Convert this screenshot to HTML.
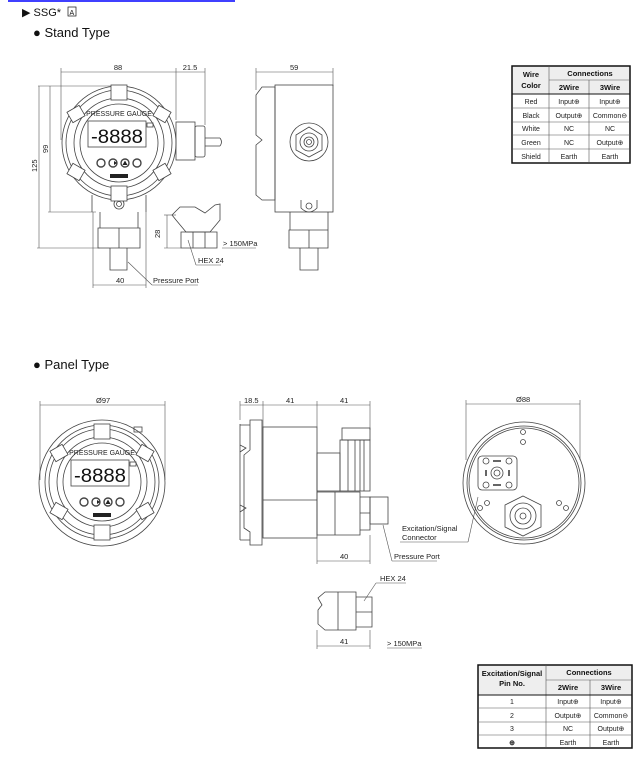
<!DOCTYPE html>
<html><head><meta charset="utf-8"><style>
html,body{margin:0;padding:0;background:#fff;}
svg{display:block;font-family:"Liberation Sans",sans-serif;}
.l{fill:none;stroke:#444;stroke-width:0.8}
.d{fill:none;stroke:#555;stroke-width:0.6}
.t{font-size:7.5px;fill:#222}
.tb{font-size:7px;fill:#222;text-anchor:middle}
.th{font-size:7.5px;fill:#111;font-weight:bold;text-anchor:middle}
</style></head><body>
<svg width="642" height="770" viewBox="0 0 642 770" xmlns="http://www.w3.org/2000/svg">
<defs>
<g id="face">
 <circle r="57" class="l"/><circle r="53" class="l"/><circle r="45" class="l"/><circle r="39" class="l"/>
 <rect x="-8" y="-58" width="16" height="15" class="l" style="fill:#fff"/>
 <rect x="-8" y="43" width="16" height="15" class="l" style="fill:#fff"/>
 <rect x="-50" y="-35" width="14" height="12" class="l" style="fill:#fff" transform="rotate(-30 -43 -29)"/>
 <rect x="36" y="-35" width="14" height="12" class="l" style="fill:#fff" transform="rotate(30 43 -29)"/>
 <rect x="-50" y="23" width="14" height="12" class="l" style="fill:#fff" transform="rotate(30 -43 29)"/>
 <rect x="36" y="23" width="14" height="12" class="l" style="fill:#fff" transform="rotate(-30 43 29)"/>
 <text x="0" y="-27" font-size="7" text-anchor="middle" fill="#222">PRESSURE GAUGE</text>
 <rect x="-31" y="-22" width="58" height="26" class="l"/>
 <text x="-28" y="0" font-size="19" fill="#111" textLength="52" lengthAdjust="spacingAndGlyphs">-8888</text>
 <rect x="28" y="-20" width="6" height="4" class="l"/>
 <circle cx="-18" cy="20" r="4" class="l" style="stroke-width:1.4"/><circle cx="-6" cy="20" r="4" class="l" style="stroke-width:1.4"/>
 <circle cx="6" cy="20" r="4" class="l" style="stroke-width:1.4"/><circle cx="18" cy="20" r="4" class="l" style="stroke-width:1.4"/>
 <path d="M-5 18 L-5 22 L-2 20 Z M6 17.5 L8.5 22 L3.5 22 Z" fill="#222"/>
 <rect x="-9" y="31" width="18" height="4" fill="#222"/>
</g>
</defs>
<line x1="8" y1="1" x2="235" y2="1" stroke="#00f" stroke-width="1.5"/>
<text x="22" y="16" font-size="11" fill="#111">▶ SSG*</text><rect x="68" y="7" width="8" height="9" fill="none" stroke="#111" stroke-width="0.7"/><text x="69.5" y="15" font-size="7" fill="#111">A</text>
<text x="33" y="37" font-size="13" fill="#111">● Stand Type</text>
<text x="33" y="369" font-size="13" fill="#111">● Panel Type</text>

<!-- Stand front -->
<g class="d">
<line x1="61" y1="72" x2="205" y2="72"/><line x1="61" y1="68" x2="61" y2="140"/><line x1="176" y1="68" x2="176" y2="120"/><line x1="205" y1="68" x2="205" y2="125"/>
<line x1="50" y1="86" x2="50" y2="212"/><line x1="39" y1="86" x2="39" y2="248"/>
<line x1="38" y1="86" x2="118" y2="86"/><line x1="48" y1="212" x2="96" y2="212"/><line x1="37" y1="248" x2="100" y2="248"/>
<line x1="93" y1="285" x2="146" y2="285"/><line x1="93" y1="212" x2="93" y2="288"/><line x1="146" y1="212" x2="146" y2="288"/>
<line x1="128" y1="262" x2="152" y2="285"/><line x1="152" y1="285" x2="198" y2="285"/>
</g>
<text x="118" y="70" class="t" text-anchor="middle">88</text><text x="190" y="70" class="t" text-anchor="middle">21.5</text>
<text x="48" y="153" class="t" transform="rotate(-90 48 153)">99</text><text x="37" y="172" class="t" transform="rotate(-90 37 172)">125</text>
<text x="116" y="283" class="t">40</text><text x="153" y="283" class="t">Pressure Port</text>
<rect x="176" y="122" width="19" height="38" class="l"/><rect x="195" y="126" width="10" height="31" class="l" rx="2"/>
<path d="M205 138 H220 M205 146 H220 M220 138 Q223 142 220 146" class="l"/>
<path d="M92 195 V212 M146 195 V212 M100 212 V228 H138 V212 M98 228 H140 V248 H98 Z M110 248 V270 H127 V248" class="l"/>
<line x1="119" y1="228" x2="119" y2="248" class="l"/>
<circle cx="119" cy="204" r="5" class="l"/><circle cx="119" cy="204" r="2.5" class="l"/>
<use href="#face" x="119" y="143"/>

<!-- detail -->
<path d="M172 215 L180 207 L195 207 L205 213 L215 205 L220 204 V220 L210 232 H186 L176 220 Z" class="l"/>
<path d="M181 232 H217 V248 H181 Z M193 232 V248 M205 232 V248" class="l"/>
<g class="d"><line x1="164" y1="215" x2="176" y2="215"/><line x1="164" y1="248" x2="181" y2="248"/><line x1="167" y1="215" x2="167" y2="248"/>
<line x1="188" y1="240" x2="196" y2="265"/><line x1="196" y1="265" x2="221" y2="265"/><line x1="222" y1="248" x2="256" y2="248"/></g>
<text x="160" y="238" class="t" transform="rotate(-90 160 238)">28</text>
<text x="223" y="246" class="t">&gt; 150MPa</text><text x="198" y="263" class="t">HEX 24</text>

<!-- side -->
<g class="d"><line x1="256" y1="72" x2="333" y2="72"/><line x1="256" y1="68" x2="256" y2="90"/><line x1="333" y1="68" x2="333" y2="86"/></g>
<text x="290" y="70" class="t">59</text>
<path d="M262 87 H275 V200 H262 L256 195 V145 L262 140 L256 135 V95 Z" class="l"/>
<rect x="275" y="85" width="58" height="127" class="l"/>
<circle cx="309" cy="142" r="19" class="l"/><polygon points="309,127 322,135 322,150 309,157 296,150 296,135" class="l"/>
<circle cx="309" cy="142" r="9" class="l"/><circle cx="309" cy="142" r="5" class="l"/><circle cx="309" cy="142" r="2.5" class="l"/>
<path d="M290 212 V230 H328 V212 M289 230 H328 V248 H289 Z M309 230 V248 M300 248 V270 H318 V248" class="l"/>
<path d="M301 200 V208 Q309 216 317 208 V200" class="l"/><circle cx="309" cy="206" r="3" class="l"/>

<!-- table 1 -->
<g font-size="7" fill="#222">
<rect x="512" y="66" width="118" height="28" fill="#eee"/>
<rect x="512" y="66" width="118" height="97" fill="none" stroke="#111" stroke-width="1.5"/>
<g stroke="#555" stroke-width="0.6"><line x1="549" y1="66" x2="549" y2="163"/><line x1="589" y1="80" x2="589" y2="163"/>
<line x1="549" y1="80" x2="630" y2="80"/><line x1="512" y1="94" x2="630" y2="94" stroke="#111" stroke-width="1"/>
<line x1="512" y1="108" x2="630" y2="108"/><line x1="512" y1="122" x2="630" y2="122"/><line x1="512" y1="135" x2="630" y2="135"/><line x1="512" y1="149" x2="630" y2="149"/></g>
<text x="531" y="77" class="th">Wire</text><text x="531" y="88" class="th">Color</text><text x="590" y="76" class="th">Connections</text>
<text x="569" y="90" class="th">2Wire</text><text x="610" y="90" class="th">3Wire</text>
<text x="531" y="104" class="tb">Red</text><text x="569" y="104" class="tb">Input⊕</text><text x="610" y="104" class="tb">Input⊕</text>
<text x="531" y="118" class="tb">Black</text><text x="569" y="118" class="tb">Output⊕</text><text x="610" y="118" class="tb">Common⊖</text>
<text x="531" y="131" class="tb">White</text><text x="569" y="131" class="tb">NC</text><text x="610" y="131" class="tb">NC</text>
<text x="531" y="145" class="tb">Green</text><text x="569" y="145" class="tb">NC</text><text x="610" y="145" class="tb">Output⊕</text>
<text x="531" y="159" class="tb">Shield</text><text x="569" y="159" class="tb">Earth</text><text x="610" y="159" class="tb">Earth</text>
</g>

<!-- Panel front -->
<g class="d"><line x1="40" y1="405" x2="165" y2="405"/><line x1="40" y1="401" x2="40" y2="480"/><line x1="165" y1="401" x2="165" y2="480"/></g>
<text x="96" y="403" class="t">Ø97</text>
<circle cx="102" cy="483" r="63" class="l"/>
<rect x="134" y="427" width="8" height="5" class="l"/>
<use href="#face" x="102" y="482"/>

<!-- Panel side -->
<g class="d"><line x1="240" y1="405" x2="370" y2="405"/><line x1="240" y1="401" x2="240" y2="420"/><line x1="263" y1="401" x2="263" y2="427"/><line x1="317" y1="401" x2="317" y2="427"/><line x1="370" y1="401" x2="370" y2="430"/>
<line x1="317" y1="561" x2="370" y2="561"/><line x1="317" y1="538" x2="317" y2="564"/><line x1="370" y1="535" x2="370" y2="564"/>
<line x1="383" y1="525" x2="392" y2="561"/><line x1="392" y1="561" x2="437" y2="561"/>
<line x1="400" y1="542" x2="468" y2="542"/><line x1="468" y1="542" x2="478" y2="497"/>
<line x1="317" y1="646" x2="370" y2="646"/><line x1="317" y1="630" x2="317" y2="649"/><line x1="370" y1="630" x2="370" y2="649"/>
<line x1="364" y1="601" x2="376" y2="583"/><line x1="376" y1="583" x2="406" y2="583"/><line x1="387" y1="648" x2="422" y2="648"/></g>
<text x="244" y="403" class="t">18.5</text><text x="286" y="403" class="t">41</text><text x="340" y="403" class="t">41</text>
<text x="340" y="559" class="t">40</text><text x="394" y="559" class="t">Pressure Port</text>
<text x="402" y="531" class="t">Excitation/Signal</text><text x="402" y="540" class="t">Connector</text>
<text x="380" y="581" class="t">HEX 24</text><text x="340" y="644" class="t">41</text><text x="387" y="646" class="t">&gt; 150MPa</text>
<path d="M250 420 H262 V545 H250 V532 L244 528 V455 L250 450 Z M240 424 V540" class="l"/>
<path d="M240 425 H250 M240 540 H250 M240 445 L246 448 L240 452 M240 505 L246 508 L240 512" class="l"/>
<rect x="263" y="427" width="54" height="111" class="l"/><line x1="263" y1="500" x2="317" y2="500" class="l"/>
<rect x="317" y="453" width="23" height="38" class="l"/><rect x="340" y="440" width="30" height="51" class="l"/>
<rect x="342" y="428" width="28" height="12" class="l"/>
<path d="M348 440 V491 M355 440 V491 M360 440 V491 M364 440 V491" class="l"/>
<path d="M317 492 H360 V535 H317 Z M335 492 V535 M360 497 H370 V530 H360 M360 513 H370" class="l"/>
<rect x="370" y="497" width="18" height="27" class="l"/>
<path d="M325 592 H356 V630 H325 L318 624 V610 L322 605 L318 598 Z M338 592 V630 M356 597 H372 V627 H356 M356 612 H372" class="l"/>

<!-- Panel back -->
<g class="d"><line x1="466" y1="404" x2="580" y2="404"/><line x1="466" y1="400" x2="466" y2="460"/><line x1="580" y1="400" x2="580" y2="460"/></g>
<text x="516" y="402" class="t">Ø88</text>
<circle cx="524" cy="483" r="61" class="l"/><circle cx="524" cy="483" r="57" class="l"/><circle cx="524" cy="483" r="55" class="l"/>
<rect x="478" y="456" width="39" height="34" rx="4" class="l"/>
<circle cx="486" cy="461" r="3" class="l"/><circle cx="509" cy="461" r="3" class="l"/><circle cx="486" cy="485" r="3" class="l"/><circle cx="509" cy="485" r="3" class="l"/>
<circle cx="497" cy="473" r="6" class="l"/><circle cx="497" cy="473" r="3" class="l"/>
<path d="M493 461 h8 M493 485 h8 M486 470 v6 M509 470 v6" stroke="#333" stroke-width="1.5"/>
<polygon points="523,496 541,505 541,527 523,536 505,527 505,505" class="l"/>
<circle cx="523" cy="516" r="13" class="l"/><circle cx="523" cy="516" r="8" class="l"/><circle cx="523" cy="516" r="3" class="l"/>
<circle cx="523" cy="432" r="2.5" class="l"/><circle cx="523" cy="442" r="2.5" class="l"/>
<circle cx="487" cy="503" r="2.5" class="l"/><circle cx="480" cy="508" r="2.5" class="l"/>
<circle cx="559" cy="503" r="2.5" class="l"/><circle cx="566" cy="508" r="2.5" class="l"/>

<!-- table 2 -->
<g font-size="7" fill="#222">
<rect x="478" y="665" width="154" height="30" fill="#eee"/>
<rect x="478" y="665" width="154" height="83" fill="none" stroke="#111" stroke-width="1.5"/>
<g stroke="#555" stroke-width="0.6"><line x1="546" y1="665" x2="546" y2="748"/><line x1="590" y1="680" x2="590" y2="748"/>
<line x1="546" y1="680" x2="632" y2="680"/><line x1="478" y1="695" x2="632" y2="695" stroke="#111" stroke-width="1"/>
<line x1="478" y1="708" x2="632" y2="708"/><line x1="478" y1="722" x2="632" y2="722"/><line x1="478" y1="735" x2="632" y2="735"/></g>
<text x="512" y="676" class="th">Excitation/Signal</text><text x="512" y="686" class="th">Pin No.</text><text x="589" y="675" class="th">Connections</text>
<text x="568" y="690" class="th">2Wire</text><text x="611" y="690" class="th">3Wire</text>
<text x="512" y="704" class="tb">1</text><text x="568" y="704" class="tb">Input⊕</text><text x="611" y="704" class="tb">Input⊕</text>
<text x="512" y="718" class="tb">2</text><text x="568" y="718" class="tb">Output⊕</text><text x="611" y="718" class="tb">Common⊖</text>
<text x="512" y="731" class="tb">3</text><text x="568" y="731" class="tb">NC</text><text x="611" y="731" class="tb">Output⊕</text>
<text x="512" y="745" class="tb" font-weight="bold">⊕</text><text x="568" y="745" class="tb">Earth</text><text x="611" y="745" class="tb">Earth</text>
</g>
</svg>
</body></html>
